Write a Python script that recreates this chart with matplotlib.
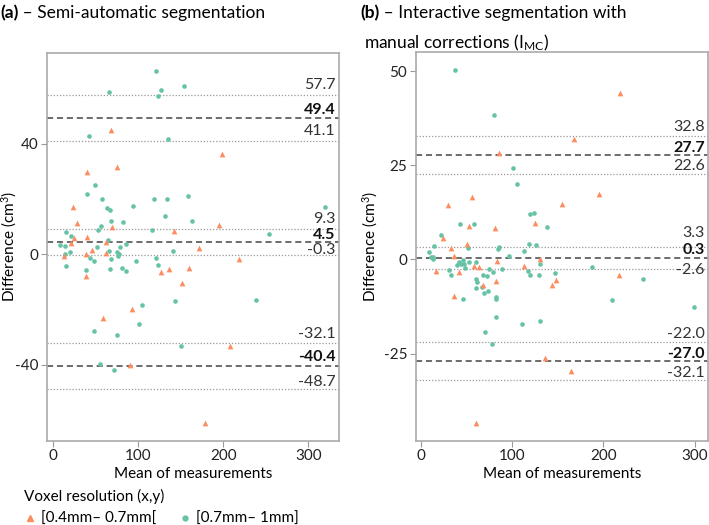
import matplotlib
matplotlib.use("Agg")
from matplotlib import pyplot as plt
from matplotlib.lines import Line2D
from matplotlib import transforms

plt.rcParams['font.family'] = ['Lato', 'DejaVu Sans']
plt.rcParams['mathtext.fontset'] = 'custom'
plt.rcParams['mathtext.rm'] = 'Lato'
plt.rcParams['mathtext.it'] = 'Lato:italic'
plt.rcParams['axes.unicode_minus'] = False

# ---- data ----
# panel (a) semi-automatic
a_green_x = [121.2, 65.9, 126.3, 122.8, 154.1, 42.0, 135.0, 48.7, 39.3, 57.3,
             63.5, 67.1, 94.1, 118.8, 133.8, 158.1, 131.1, 163.5, 67.5, 82.4,
             320.0, 56.1, 52.6, 116.5, 253.8, 64.7, 20.8, 51.4, 78.5, 85.2,
             65.5, 74.9, 77.3, 76.5, 140.8, 43.5, 48.2, 67.5, 96.9, 120.8,
             123.5, 38.1, 66.7, 81.2, 85.5, 19.6, 238.5, 143.5, 104.7, 101.2,
             47.5, 74.9, 149.9, 55.3, 71.8, 14.9, 7.5, 13.4, 13.4, 15.3]
a_green_y = [66.5, 58.9, 59.5, 57.4, 60.9, 42.8, 41.9, 25.0, 21.8, 20.1,
             16.8, 16.0, 17.5, 19.9, 20.0, 21.0, 13.8, 12.2, 12.2, 11.8,
             17.0, 10.1, 8.8, 8.7, 7.3, 5.2, 6.7, 2.5, 2.8, 3.8,
             1.3, 0.9, 0.0, -0.6, 1.3, -1.5, -2.4, -1.8, -2.3, -1.3,
             -4.0, -5.7, -5.4, -4.8, -5.9, 0.9, -16.4, -16.8, -18.4, -25.3,
             -27.8, -29.2, -33.2, -39.6, -41.9, 8.0, 3.3, 3.0, 0.1, -4.1]
a_orange_x = [67.5, 198.1, 74.6, 39.6, 22.8, 27.5, 195.0, 69.0, 141.6, 40.0,
              24.4, 21.2, 62.0, 171.0, 38.8, 45.9, 62.4, 218.5, 159.6, 135.8,
              127.1, 38.8, 151.4, 92.6, 58.5, 208.2, 90.6, 178.5, 12.6]
a_orange_y = [45.0, 36.3, 31.5, 29.7, 17.0, 11.2, 10.6, 9.8, 8.4, 6.4,
              5.8, 4.0, 4.3, 2.2, 0.2, 1.4, 0.4, -1.8, -4.8, -5.4,
              -6.5, -7.9, -10.3, -19.9, -22.9, -33.1, -40.0, -61.2, -0.5]
a_mean = [49.4, 4.5, -40.4]
a_ci = [57.7, 41.1, 9.3, -0.3, -32.1, -48.7]

# panel (b) interactive with manual corrections
b_green_x = [37.9, 80.2, 101.0, 105.3, 119.9, 124.2, 42.7, 58.0, 138.1, 22.5,
             14.2, 8.7, 11.3, 13.8, 13.1, 51.4, 84.5, 86.0, 118.8, 125.8,
             113.0, 96.2, 130.2, 53.2, 46.6, 47.0, 42.2, 40.0, 44.4, 60.2,
             31.0, 33.5, 48.5, 74.7, 79.1, 88.9, 67.8, 72.2, 60.2, 61.6,
             117.0, 119.5, 129.1, 146.6, 187.7, 243.1, 67.4, 69.6, 73.3, 60.2,
             82.0, 82.0, 45.9, 209.6, 298.9, 82.7, 110.5, 130.5, 70.0, 78.0]
b_green_y = [50.2, 38.3, 24.3, 19.9, 12.0, 12.2, 9.4, 9.4, 8.6, 6.4,
             3.5, 2.0, 0.7, 0.7, 0.1, 3.1, 2.9, 3.3, 4.1, 3.9,
             2.3, 1.0, -1.1, -0.7, -0.2, -1.2, -0.8, -1.6, -1.3, -0.7,
             -2.7, -4.0, -2.4, -2.6, -3.3, -2.6, -4.1, -4.3, -5.3, -6.0,
             -3.1, -4.2, -4.0, -3.5, -2.1, -5.2, -7.4, -8.8, -8.5, -7.7,
             -10.1, -10.6, -10.6, -10.8, -12.6, -15.2, -17.2, -16.4, -19.2, -22.4]
b_orange_x = [218.0, 167.3, 86.0, 56.4, 29.9, 195.3, 154.2, 125.0, 53.2, 81.6,
              24.1, 50.3, 33.1, 36.1, 83.1, 130.5, 16.7, 41.6, 58.6, 64.1,
              82.7, 68.1, 148.0, 143.9, 217.2, 36.4, 113.3, 136.0, 164.4, 60.5]
b_orange_y = [44.3, 32.0, 28.3, 16.6, 14.4, 17.4, 14.7, 9.8, 9.0, 8.3,
              5.7, 4.1, 3.1, 0.9, -0.5, 0.2, -3.0, -3.2, -1.7, -2.1,
              -5.6, -6.9, -5.4, -6.9, -4.0, -9.7, -1.7, -26.1, -29.7, -43.3]
b_mean = [27.7, 0.3, -27.0]
b_ci = [32.8, 22.6, 3.3, -2.6, -22.0, -32.1]

labels = ["[0.4mm\u2013 0.7mm[", "[0.7mm\u2013 1mm]"]
c_orange = "#FC8D62"
c_green = "#66C2A5"

# vertical offset (pixels) of each value label above its line
a_mean_off = [7.5, 7, 9]
a_ci_off = [9.5, 10, 10, 5, 9, 7]
b_mean_off = [7.5, 8, 7.5]
b_ci_off = [9, 8.5, 14, -1, 8, 7.5]

fig = plt.figure(figsize=(7.09, 5.25), dpi=100)
ax1 = fig.add_axes([0.0663, 0.1606, 0.4118, 0.739])
ax2 = fig.add_axes([0.5863, 0.160, 0.4127, 0.7404])


def value_label(ax, v, off, bold):
    tr = transforms.offset_copy(ax.get_yaxis_transform(), fig=fig,
                                x=0, y=off, units="dots")
    ax.text(0.988, v, "%.1f" % v, transform=tr, ha="right", va="center",
            fontsize=11.5, fontweight="bold" if bold else "normal",
            color="#111111" if bold else "#333333", zorder=4)


def panel(ax, gx, gy, ox, oy, mean, ci, mean_off, ci_off, xlim, ylim, yticks, ylab_x):
    for v in ci:
        ax.axhline(v, color="#999999", lw=0.9, ls=(0, (1, 1.5)), zorder=1)
    for v in mean:
        ax.axhline(v, color="#444444", lw=1.1, ls=(0, (4, 2.5)), zorder=1)
    ax.scatter(gx, gy, s=11, marker="o", color=c_green, linewidths=0, zorder=3)
    ax.scatter(ox, oy, s=17, marker="^", color=c_orange, linewidths=0, zorder=3)
    for v, o in zip(ci, ci_off):
        value_label(ax, v, o, False)
    for v, o in zip(mean, mean_off):
        value_label(ax, v, o, True)
    ax.set_xlim(*xlim)
    ax.set_ylim(*ylim)
    ax.set_xticks([0, 100, 200, 300])
    ax.set_yticks(yticks)
    for s in ax.spines.values():
        s.set_color("#aaaaaa")
        s.set_linewidth(1.2)
    ax.tick_params(direction="out", length=4, color="#999999", labelsize=11,
                   labelcolor="#222222", pad=2)
    ax.set_xlabel("Mean of measurements", fontsize=11, labelpad=3)
    ax.set_ylabel("Difference (cm$^3$)", fontsize=11)
    ax.yaxis.set_label_coords(ylab_x, 0.5)


panel(ax1, a_green_x, a_green_y, a_orange_x, a_orange_y, a_mean, a_ci,
      a_mean_off, a_ci_off, (-7.5, 336), (-67.5, 73), [-40, 0, 40], -0.096)
panel(ax2, b_green_x, b_green_y, b_orange_x, b_orange_y, b_mean, b_ci,
      b_mean_off, b_ci_off, (-5.5, 314.7), (-48.2, 55), [-25, 0, 25, 50], -0.122)

# titles
t1 = fig.text(0.0, 0.975, "(a)", fontsize=12.5, fontweight="bold", va="center")
ax1.annotate(" \u2013 Semi-automatic segmentation", xy=(1, 0.5), xycoords=t1,
             va="center", fontsize=12.5)
t2 = fig.text(0.508, 0.975, "(b)", fontsize=12.5, fontweight="bold", va="center")
ax2.annotate(" \u2013 Interactive segmentation with", xy=(1, 0.5), xycoords=t2,
             va="center", fontsize=12.5)
fig.text(0.513, 0.918, "manual corrections (I$_{\\mathrm{MC}}$)", fontsize=12.5, va="center")

# legend
handles = [Line2D([], [], marker="^", color=c_orange, ls="none", markersize=4.5),
           Line2D([], [], marker="o", color=c_green, ls="none", markersize=3.5)]
fig.legend(handles, labels, title="Voxel resolution (x,y)", loc="lower left",
           bbox_to_anchor=(0.03, -0.008), ncol=2, frameon=False, alignment="left",
           fontsize=11, title_fontsize=11, handlelength=0.8, handletextpad=0.3,
           columnspacing=1.5, borderpad=0.2, borderaxespad=0)

fig.savefig("out.png", dpi=100)
